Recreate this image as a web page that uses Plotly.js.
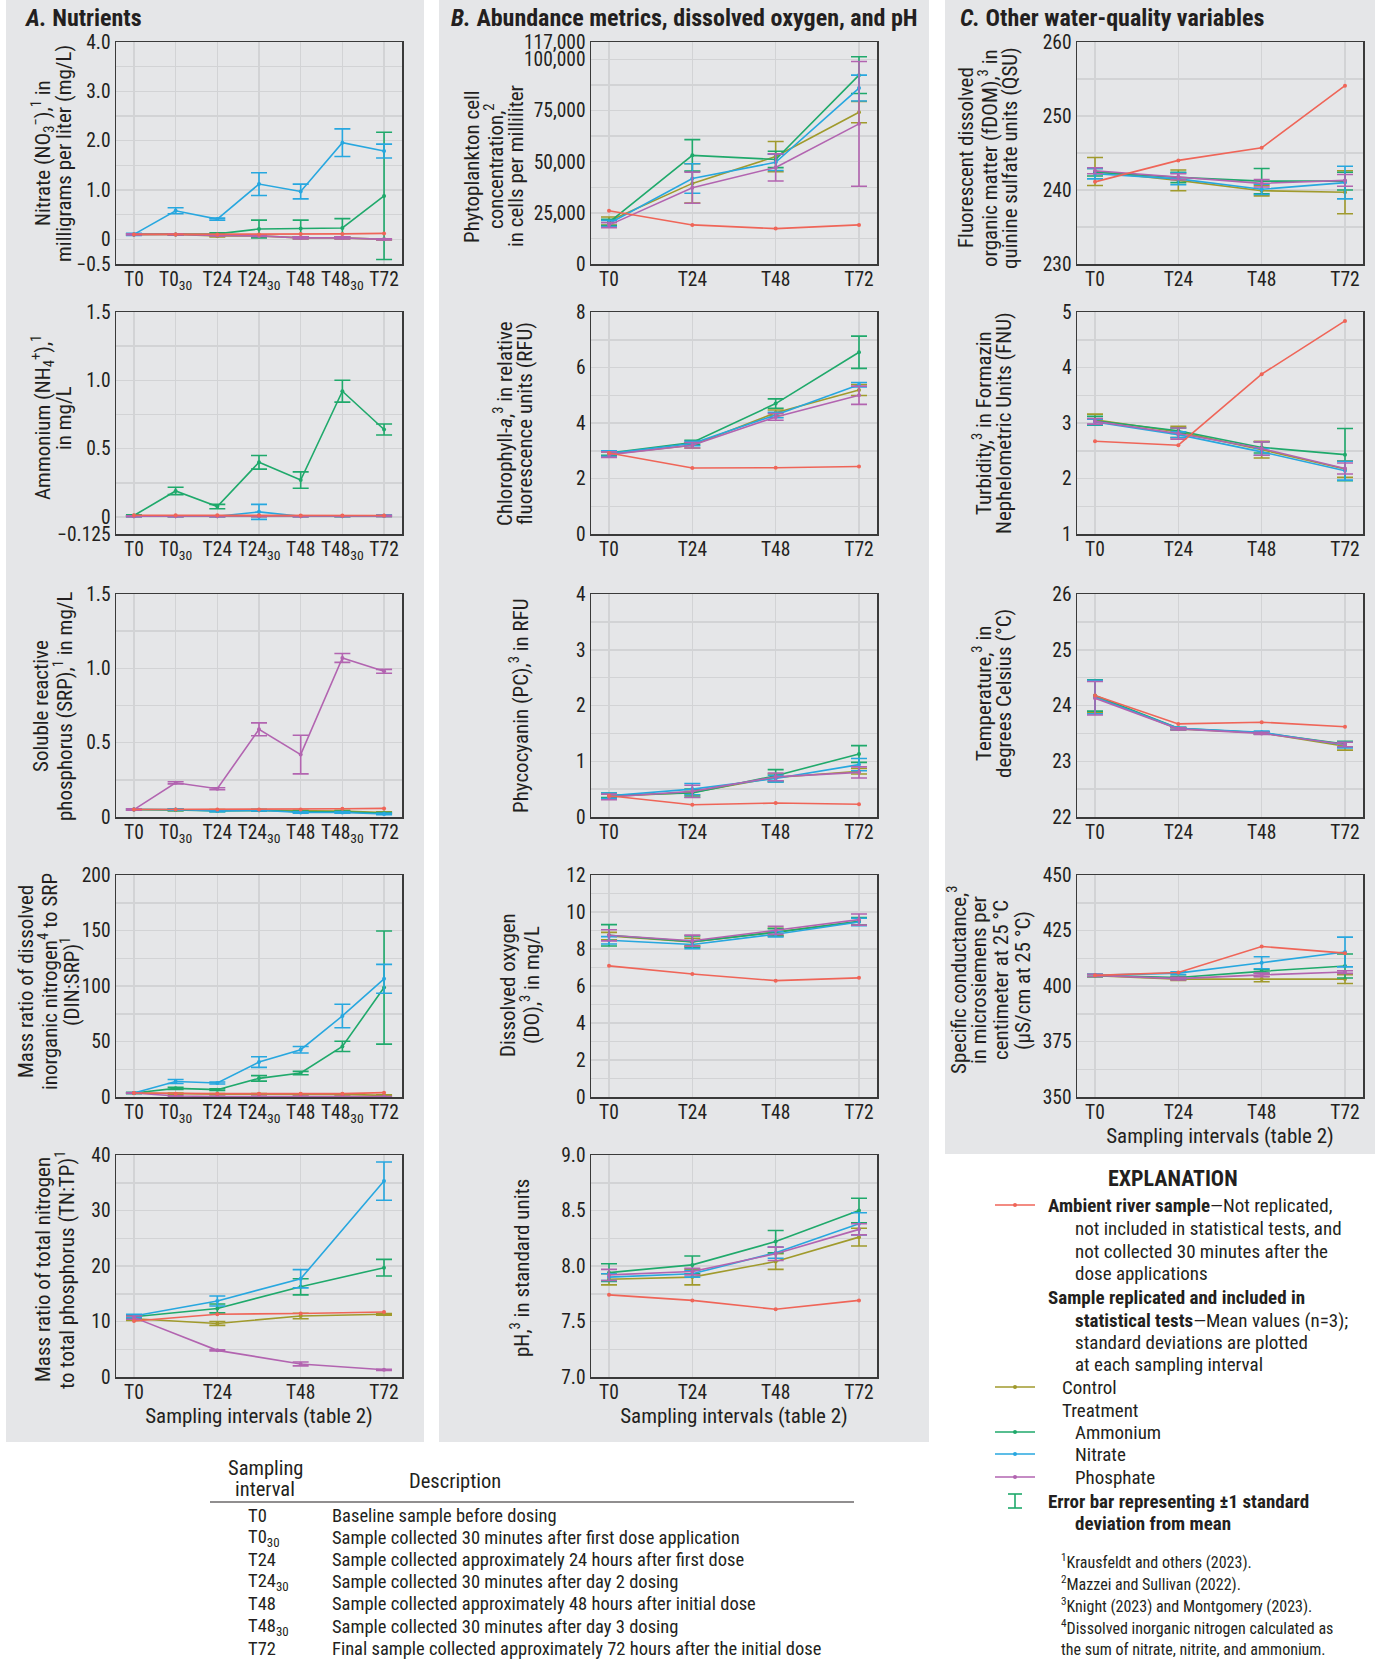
<!DOCTYPE html>
<html><head><meta charset="utf-8">
<script src="https://cdn.plot.ly/plotly-3.0.1.min.js"></script>
<style>body{margin:0;background:#fff}#c{width:1381px;height:1660px}</style>
</head><body><div id="c"></div>
<script>
// ---------------- DATA ----------------
const cats7 = ['T0','T0_30','T24','T24_30','T48','T48_30','T72'];
const cats7Labels = ['T0','T0<sub>30</sub>','T24','T24<sub>30</sub>','T48','T48<sub>30</sub>','T72'];
const cats4 = ['T0','T24','T48','T72'];
const cats4Labels = ['T0','T24','T48','T72'];

// A. Nutrients
const nitrateMean = {ambient:[0.10,0.10,0.10,0.10,0.11,0.11,0.12], control:[0.10,0.10,0.07,0.07,0.03,0.03,0.00], ammonium:[0.10,0.10,0.11,0.21,0.22,0.23,0.88], nitrate:[0.10,0.58,0.41,1.12,0.97,1.96,1.79], phosphate:[0.10,0.10,0.08,0.07,0.03,0.03,0.00]};
const nitrateSD = {control:[0.01,0.01,0.02,0.02,0.02,0.02,0.01], ammonium:[0.01,0.01,0.02,0.18,0.17,0.19,1.29], nitrate:[0.02,0.06,0.02,0.23,0.15,0.28,0.14], phosphate:[0.01,0.01,0.01,0.01,0.02,0.02,0.01]};

const ammoniumMean = {ambient:[0.012,0.012,0.012,0.012,0.010,0.010,0.010], control:[0.005,0.005,0.005,0.005,0.005,0.005,0.008], ammonium:[0.010,0.19,0.076,0.40,0.27,0.92,0.64], nitrate:[0.005,0.005,0.005,0.037,0.005,0.005,0.008], phosphate:[0.005,0.005,0.005,0.005,0.005,0.006,0.008]};
const ammoniumSD = {control:[0.003,0.003,0.003,0.003,0.003,0.003,0.004], ammonium:[0.005,0.027,0.016,0.05,0.06,0.08,0.04], nitrate:[0.003,0.003,0.003,0.055,0.003,0.003,0.005], phosphate:[0.003,0.003,0.003,0.003,0.003,0.003,0.004]};

const srpMean = {ambient:[0.05,0.05,0.05,0.05,0.05,0.055,0.058], control:[0.05,0.048,0.045,0.045,0.04,0.04,0.03], ammonium:[0.05,0.048,0.04,0.045,0.035,0.035,0.025], nitrate:[0.05,0.05,0.04,0.045,0.03,0.03,0.02], phosphate:[0.05,0.23,0.19,0.59,0.42,1.07,0.98]};
const srpSD = {control:[0.005,0.005,0.005,0.005,0.005,0.005,0.005], ammonium:[0.005,0.005,0.005,0.005,0.005,0.005,0.005], nitrate:[0.005,0.005,0.005,0.005,0.005,0.005,0.005], phosphate:[0.005,0.007,0.007,0.043,0.13,0.03,0.013]};

const dinSrpMean = {ambient:[3.6,3.0,3.0,3.0,3.0,3.0,3.9], control:[3.6,3.0,2.6,2.6,2.4,2.4,1.5], ammonium:[3.6,7.8,6.6,16.8,21.6,45.6,98.6], nitrate:[3.6,14.0,12.6,31.5,42.6,73.0,106.5], phosphate:[3.6,0.9,0.5,0.4,0.4,0.3,0.3]};
const dinSrpSD = {control:[0.5,0.5,0.5,0.5,0.5,0.5,0.5], ammonium:[0.5,1.0,0.8,2.5,1.5,4.6,51], nitrate:[0.5,1.8,0.9,4.8,2.9,10.6,13], phosphate:[0.2,0.2,0.2,0.2,0.2,0.2,0.2]};

const tnTpMean = {ambient:[10.1,11.3,11.45,11.7], control:[10.5,9.65,11.0,11.3], ammonium:[10.85,12.35,16.25,19.7], nitrate:[11.0,13.7,17.7,35.3], phosphate:[10.7,4.8,2.35,1.3]};
const tnTpSD = {control:[0.3,0.35,0.5,0.15], ammonium:[0.3,0.8,1.45,1.5], nitrate:[0.3,0.9,1.65,3.45], phosphate:[0.3,0.1,0.35,0.1]};

// B. Abundance metrics, DO, pH
const phytoMean = {ambient:[26000,19100,17300,19100], control:[21000,39400,52500,74200], ammonium:[20300,53100,51100,92300], nitrate:[19800,41800,49700,86000], phosphate:[19000,37300,47200,68500]};
const phytoSD = {control:[2000,9600,7400,5200], ammonium:[1500,7700,4000,9000], nitrate:[1500,7200,4000,6300], phosphate:[1200,7600,6600,30500]};

const chlMean = {ambient:[2.92,2.38,2.39,2.43], control:[2.88,3.2,4.37,5.19], ammonium:[2.92,3.3,4.7,6.55], nitrate:[2.9,3.26,4.29,5.38], phosphate:[2.86,3.2,4.22,5.0]};
const chlSD = {control:[0.08,0.1,0.1,0.2], ammonium:[0.08,0.08,0.17,0.58], nitrate:[0.1,0.08,0.1,0.08], phosphate:[0.1,0.1,0.12,0.33]};

const pcMean = {ambient:[0.38,0.22,0.25,0.23], control:[0.37,0.44,0.71,0.82], ammonium:[0.39,0.43,0.74,1.13], nitrate:[0.38,0.50,0.69,0.94], phosphate:[0.36,0.46,0.72,0.80]};
const pcSD = {control:[0.04,0.05,0.06,0.05], ammonium:[0.04,0.07,0.11,0.15], nitrate:[0.05,0.1,0.06,0.11], phosphate:[0.05,0.11,0.07,0.1]};

const doMean = {ambient:[7.09,6.65,6.29,6.44], control:[8.7,8.38,8.92,9.48], ammonium:[8.74,8.4,8.9,9.5], nitrate:[8.47,8.24,8.8,9.46], phosphate:[8.74,8.45,9.01,9.59]};
const doSD = {control:[0.2,0.2,0.2,0.2], ammonium:[0.58,0.3,0.2,0.2], nitrate:[0.2,0.22,0.15,0.2], phosphate:[0.3,0.3,0.22,0.3]};

const phMean = {ambient:[7.74,7.69,7.61,7.69], control:[7.88,7.90,8.04,8.26], ammonium:[7.94,8.01,8.22,8.50], nitrate:[7.90,7.93,8.12,8.38], phosphate:[7.92,7.95,8.11,8.33]};
const phSD = {control:[0.05,0.07,0.07,0.08], ammonium:[0.08,0.08,0.1,0.11], nitrate:[0.03,0.03,0.05,0.1], phosphate:[0.05,0.03,0.06,0.05]};

// C. Other water-quality variables
const fdomMean = {ambient:[241.1,244.0,245.7,254.1], control:[242.5,241.3,239.9,239.7], ammonium:[242.4,241.7,241.2,241.2], nitrate:[242.2,241.5,240.1,241.0], phosphate:[242.6,241.8,240.9,241.3]};
const fdomSD = {control:[1.9,1.4,0.7,2.9], ammonium:[0.5,0.7,1.7,1.2], nitrate:[0.7,0.8,0.7,2.2], phosphate:[0.4,0.4,0.5,0.8]};

const turbMean = {ambient:[2.67,2.60,3.88,4.84], control:[3.06,2.84,2.52,2.17], ammonium:[3.04,2.86,2.56,2.43], nitrate:[3.02,2.79,2.48,2.14], phosphate:[3.03,2.81,2.54,2.18]};
const turbSD = {control:[0.1,0.1,0.15,0.15], ammonium:[0.08,0.05,0.1,0.47], nitrate:[0.05,0.05,0.06,0.17], phosphate:[0.05,0.1,0.12,0.1]};

const tempMean = {ambient:[24.18,23.67,23.70,23.62], control:[24.16,23.58,23.51,23.27], ammonium:[24.18,23.59,23.51,23.31], nitrate:[24.15,23.59,23.52,23.29], phosphate:[24.13,23.58,23.50,23.30]};
const tempSD = {control:[0.28,0.02,0.02,0.07], ammonium:[0.28,0.02,0.02,0.05], nitrate:[0.3,0.02,0.02,0.05], phosphate:[0.3,0.02,0.02,0.04]};

const scMean = {ambient:[404.8,406.1,417.8,414.8], control:[404.6,403.1,403.1,403.1], ammonium:[404.8,403.8,406.6,409.0], nitrate:[404.8,405.8,410.5,415.3], phosphate:[404.8,403.3,405.0,406.3]};
const scSD = {control:[0.5,0.6,1.2,2.0], ammonium:[0.5,0.6,0.8,5.4], nitrate:[0.5,0.6,2.7,6.7], phosphate:[0.5,0.6,0.8,0.6]};

// Table
const tableCodes = ['T0','T0<sub>30</sub>','T24','T24<sub>30</sub>','T48','T48<sub>30</sub>','T72'];
const tableDesc = ['Baseline sample before dosing','Sample collected 30 minutes after first dose application','Sample collected approximately 24 hours after first dose','Sample collected 30 minutes after day 2 dosing','Sample collected approximately 48 hours after initial dose','Sample collected 30 minutes after day 3 dosing','Final sample collected approximately 72 hours after the initial dose'];
const footnotes = ['<sup>1</sup>Krausfeldt and others (2023).','<sup>2</sup>Mazzei and Sullivan (2022).','<sup>3</sup>Knight (2023) and Montgomery (2023).','<sup>4</sup>Dissolved inorganic nitrogen calculated as','the sum of nitrate, nitrite, and ammonium.'];

// ---------------- STYLE / LAYOUT ----------------
const W = 1381, H = 1660;
const FONT = '"Liberation Sans Narrow", "Roboto Condensed", "Arial Narrow", "DejaVu Sans Condensed", sans-serif';
const INK = '#231f20';
const COLORS = {ambient:'#ef6558', control:'#a09a2c', ammonium:'#1fa96b', nitrate:'#27a7df', phosphate:'#b264b0'};
const ORDER = ['control','ammonium','nitrate','phosphate','ambient'];
const GRID = '#d2d3d5';
const px = x => x / W, py = y => 1 - y / H;

const COLS = {A:[116,402], B:[591,877], C:[1077,1363]};
const ROWS = [[42,264],[312,534],[594,817],[875,1097],[1155,1377]];

function ticks(lo, hi, step, labelFn) {
  const v = [], t = [];
  const n = Math.round((hi - lo) / step);
  for (let i = 0; i <= n; i++) { const val = +(lo + i * step).toFixed(6); v.push(val); t.push(labelFn(val, i)); }
  return {v, t};
}

const panels = [
  {col:'A', row:0, cats:cats7, labels:cats7Labels, mean:nitrateMean, sd:nitrateSD, range:[-0.5,4], tk:ticks(-0.5,4,0.5,(v)=> (v===-0.5? '\u22120.5' : v===0?'0': (Number.isInteger(v)? v.toFixed(1):''))),
   title:['Nitrate (NO<sub>3</sub><sup>\u2212</sup>),<sup>1</sup> in','milligrams per liter (mg/L)'], tx:53, ty:153},
  {col:'A', row:1, cats:cats7, labels:cats7Labels, mean:ammoniumMean, sd:ammoniumSD, range:[-0.125,1.5], tk:{v:[-0.125,0,0.25,0.5,0.75,1,1.25,1.5], t:['\u22120.125','0','','0.5','','1.0','','1.5']},
   title:['Ammonium (NH<sub>4</sub><sup>+</sup>),<sup>1</sup>','in mg/L'], tx:53, ty:418},
  {col:'A', row:2, cats:cats7, labels:cats7Labels, mean:srpMean, sd:srpSD, range:[0,1.5], tk:ticks(0,1.5,0.25,(v,i)=> i%2? '' : (v===0?'0':v.toFixed(1))),
   title:['Soluble reactive','phosphorus (SRP),<sup>1</sup> in mg/L'], tx:52, ty:706},
  {col:'A', row:3, cats:cats7, labels:cats7Labels, mean:dinSrpMean, sd:dinSrpSD, range:[0,200], tk:ticks(0,200,25,(v,i)=> i%2? '' : String(v)),
   title:['Mass ratio of dissolved','inorganic nitrogen<sup>4</sup> to SRP','(DIN:SRP)<sup>1</sup>'], tx:48, ty:982},
  {col:'A', row:4, cats:cats4, labels:cats4Labels, mean:tnTpMean, sd:tnTpSD, range:[0,40], tk:ticks(0,40,5,(v,i)=> i%2? '' : String(v)),
   title:['Mass ratio of total nitrogen','to total phosphorus (TN:TP)<sup>1</sup>'], tx:54, ty:1270, xtitle:true},
  {col:'B', row:0, cats:cats4, labels:cats4Labels, mean:phytoMean, sd:phytoSD, range:[0,108500], tk:{v:[0,12500,25000,37500,50000,62500,75000,87500,100000,108500], t:['0','','25,000','','50,000','','75,000','','100,000','117,000']},
   title:['Phytoplankton cell','concentration,<sup>2</sup>','in cells per milliliter'], tx:494, ty:166},
  {col:'B', row:1, cats:cats4, labels:cats4Labels, mean:chlMean, sd:chlSD, range:[0,8], tk:ticks(0,8,1,(v,i)=> i%2? '' : String(v)),
   title:['Chlorophyll-<i>a</i>,<sup>3</sup> in relative','fluorescence units (RFU)'], tx:514, ty:424},
  {col:'B', row:2, cats:cats4, labels:cats4Labels, mean:pcMean, sd:pcSD, range:[0,4], tk:ticks(0,4,0.5,(v,i)=> i%2? '' : String(v)),
   title:['Phycocyanin (PC),<sup>3</sup> in RFU'], tx:519, ty:706},
  {col:'B', row:3, cats:cats4, labels:cats4Labels, mean:doMean, sd:doSD, range:[0,12], tk:ticks(0,12,1,(v,i)=> i%2? '' : String(v)),
   title:['Dissolved oxygen','(DO),<sup>3</sup> in mg/L'], tx:519, ty:985},
  {col:'B', row:4, cats:cats4, labels:cats4Labels, mean:phMean, sd:phSD, range:[7,9], tk:ticks(7,9,0.25,(v,i)=> i%2? '' : v.toFixed(1)),
   title:['pH,<sup>3</sup> in standard units'], tx:520, ty:1268, xtitle:true},
  {col:'C', row:0, cats:cats4, labels:cats4Labels, mean:fdomMean, sd:fdomSD, range:[230,260], tk:ticks(230,260,5,(v,i)=> i%2? '' : String(v)),
   title:['Fluorescent dissolved','organic matter (fDOM),<sup>3</sup> in','quinine sulfate units (QSU)'], tx:988, ty:158},
  {col:'C', row:1, cats:cats4, labels:cats4Labels, mean:turbMean, sd:turbSD, range:[1,5], tk:ticks(1,5,0.5,(v,i)=> i%2? '' : String(v)),
   title:['Turbidity,<sup>3</sup> in Formazin','Nephelometric Units (FNU)'], tx:993, ty:423},
  {col:'C', row:2, cats:cats4, labels:cats4Labels, mean:tempMean, sd:tempSD, range:[22,26], tk:ticks(22,26,0.5,(v,i)=> i%2? '' : String(v)),
   title:['Temperature,<sup>3</sup> in','degrees Celsius (\u00b0C)'], tx:993, ty:694},
  {col:'C', row:3, cats:cats4, labels:cats4Labels, mean:scMean, sd:scSD, range:[350,450], tk:ticks(350,450,12.5,(v,i)=> i%2? '' : String(v)),
   title:['Specific conductance,<sup>3</sup>','in microsiemens per','centimeter at 25 \u00b0C','(\u00b5S/cm at 25 \u00b0C)'], tx:990, ty:980, xtitle:true},
];

const traces = [];
const layout = {
  width:W, height:H, margin:{l:0,r:0,t:0,b:0},
  paper_bgcolor:'#ffffff', plot_bgcolor:'#ffffff',
  font:{family:FONT, size:18, color:INK},
  showlegend:false, shapes:[], annotations:[]
};

// gray panel backgrounds
[[6,0,424,1442],[439,0,929,1442],[945,0,1375,1154]].forEach(r => {
  layout.shapes.push({type:'rect', xref:'paper', yref:'paper', x0:px(r[0]), x1:px(r[2]), y0:py(r[3]), y1:py(r[1]), fillcolor:'#e5e6e8', line:{width:0}, layer:'below'});
});

const TITLE_SPACING = 22;
panels.forEach((p, i) => {
  const k = i + 1, xa = 'xaxis' + (k===1?'':k), ya = 'yaxis' + (k===1?'':k);
  const xr = COLS[p.col], yr = ROWS[p.row];
  const n = p.cats.length, pad = n === 7 ? 0.43 : 0.216;
  const majV = [], majT = [], minV = [];
  p.tk.v.forEach((v, j) => { if (p.tk.t[j] === '') minV.push(v); else { majV.push(v); majT.push(p.tk.t[j]); } });
  layout[xa] = {domain:[px(xr[0]), px(xr[1])], anchor:'y'+k, type:'category', range:[-pad, n-1+pad],
    tickvals:p.cats, ticktext:p.labels, showgrid:true, gridcolor:GRID, gridwidth:1.5,
    showline:true, mirror:true, linecolor:'#3a3a3a', linewidth:1.5, ticks:'', zeroline:false,
    ticklabelstandoff:-3,
    tickfont:{family:FONT, size:19.5, color:INK}, fixedrange:true};
  if (p.xtitle) layout[xa].title = {text:'Sampling intervals (table 2)', font:{family:FONT, size:21, color:INK}, standoff:2};
  layout[ya] = {domain:[py(yr[1]), py(yr[0])], anchor:'x'+k, range:p.range, tickmode:'array', tickvals:majV, ticktext:majT,
    minor:{tickmode:'array', tickvals:minV, showgrid:true, gridcolor:GRID, gridwidth:1.5, ticks:''},
    showgrid:true, gridcolor:GRID, gridwidth:1.5, showline:true, mirror:true, linecolor:'#3a3a3a', linewidth:1.5,
    ticks:'', zeroline:false, tickfont:{family:FONT, size:19.5, color:INK}, fixedrange:true};
  ORDER.forEach(s => {
    const t = {type:'scatter', mode:'lines+markers', x:p.cats, y:p.mean[s], xaxis:'x'+k, yaxis:'y'+k,
      line:{color:COLORS[s], width:1.6}, marker:{color:COLORS[s], size:4}, cliponaxis:false, hoverinfo:'skip'};
    if (p.sd[s]) t.error_y = {type:'data', array:p.sd[s], visible:true, color:COLORS[s], thickness:1.6, width:8};
    traces.push(t);
  });
  const nl = p.title.length;
  p.title.forEach((line, j) => {
    const x = p.tx - (nl - 1) / 2 * TITLE_SPACING + j * TITLE_SPACING;
    layout.annotations.push({xref:'paper', yref:'paper', x:px(x), y:py(p.ty), xanchor:'center', yanchor:'middle',
      textangle:-90, text:line, showarrow:false, font:{family:FONT, size:21, color:INK}});
  });
});

// Panel titles
[[22,'<b><i>A.</i> Nutrients</b>'],[449,'<b><i>B.</i> Abundance metrics, dissolved oxygen, and pH</b>'],[958,'<b><i>C.</i> Other water-quality variables</b>']].forEach(a => {
  layout.annotations.push({xref:'paper', yref:'paper', x:px(a[0]), y:py(18), xanchor:'left', yanchor:'middle', text:a[1], showarrow:false, font:{family:FONT, size:24, color:INK}});
});

// Explanation
const ann = (x, y, text, opts={}) => layout.annotations.push(Object.assign({xref:'paper', yref:'paper', x:px(x), y:py(y), xanchor:'left', yanchor:'middle', text, showarrow:false, font:{family:FONT, size:19, color:INK}}, opts));
ann(1173, 1178, '<b>EXPLANATION</b>', {xanchor:'center', font:{family:FONT, size:22, color:INK}});
const legLine = (y, color) => {
  layout.shapes.push({type:'line', xref:'paper', yref:'paper', x0:px(995), x1:px(1035), y0:py(y), y1:py(y), line:{color, width:1.6}});
  layout.shapes.push({type:'circle', xref:'paper', yref:'paper', x0:px(1013), x1:px(1017), y0:py(y+2), y1:py(y-2), fillcolor:color, line:{width:0}});
};
legLine(1205, COLORS.ambient);
ann(1046, 1205, '<b>Ambient river sample</b>\u2014Not replicated,');
ann(1073, 1228, 'not included in statistical tests, and');
ann(1073, 1251, 'not collected 30 minutes after the');
ann(1073, 1273, 'dose applications');
ann(1046, 1297, '<b>Sample replicated and included in</b>');
ann(1073, 1320, '<b>statistical tests</b>\u2014Mean values (n=3);');
ann(1073, 1342, 'standard deviations are plotted');
ann(1073, 1364, 'at each sampling interval');
legLine(1387, COLORS.control); ann(1060, 1387, 'Control');
ann(1060, 1410, 'Treatment');
legLine(1432, COLORS.ammonium); ann(1073, 1432, 'Ammonium');
legLine(1454, COLORS.nitrate); ann(1073, 1454, 'Nitrate');
legLine(1477, COLORS.phosphate); ann(1073, 1477, 'Phosphate');
// error bar symbol
[[1015,1494,1015,1508],[1008,1494,1022,1494],[1008,1508,1022,1508]].forEach(s => layout.shapes.push({type:'line', xref:'paper', yref:'paper', x0:px(s[0]), x1:px(s[2]), y0:py(s[1]), y1:py(s[3]), line:{color:COLORS.ammonium, width:1.6}}));
ann(1046, 1501, '<b>Error bar representing \u00b11 standard</b>');
ann(1073, 1523, '<b>deviation from mean</b>');
footnotes.forEach((f, i) => ann(1059, 1561 + i*22, f, {font:{family:FONT, size:16, color:INK}}));

// Table
ann(265, 1468, 'Sampling', {xanchor:'center', font:{family:FONT, size:20.5, color:INK}});
ann(265, 1489, 'interval', {xanchor:'center', font:{family:FONT, size:20.5, color:INK}});
ann(455, 1481, 'Description', {xanchor:'center', font:{family:FONT, size:20.5, color:INK}});
layout.shapes.push({type:'line', xref:'paper', yref:'paper', x0:px(210), x1:px(854), y0:py(1502), y1:py(1502), line:{color:INK, width:1.2}});
tableCodes.forEach((c, i) => {
  const y = 1516 + i*22.1;
  ann(246, y, c, {font:{family:FONT, size:18.5, color:INK}});
  ann(330, y, tableDesc[i], {font:{family:FONT, size:18.5, color:INK}});
});

Plotly.newPlot('c', traces, layout, {staticPlot:true, displayModeBar:false});
</script>
</body></html>
